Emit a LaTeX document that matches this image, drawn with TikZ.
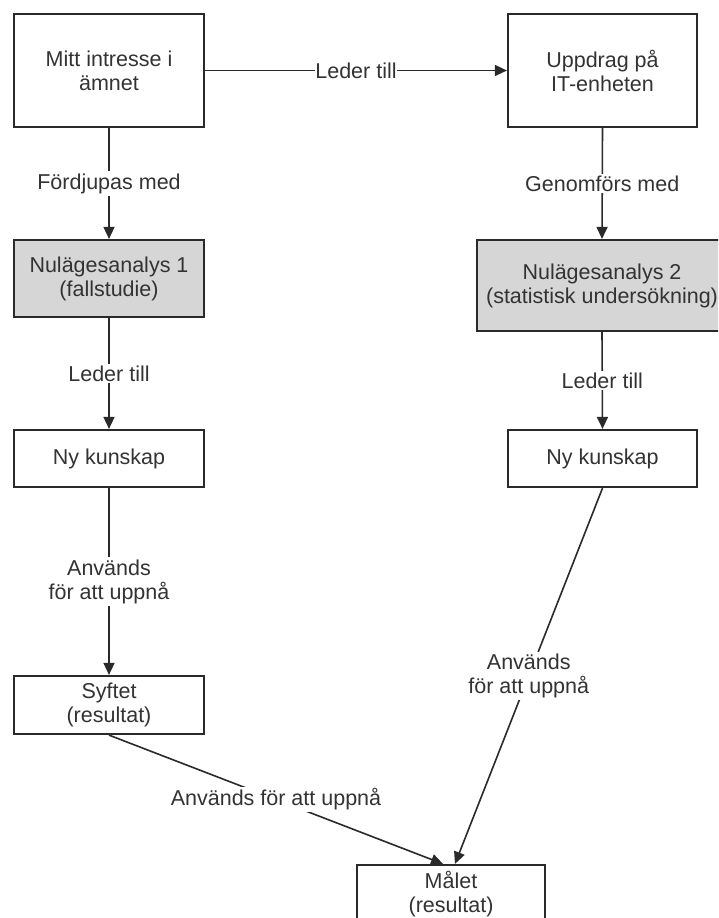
\documentclass[tikz,border=0pt]{standalone}
\usepackage{fontspec}
\setmainfont{Liberation Sans}
\usetikzlibrary{arrows.meta}
\definecolor{ink}{HTML}{2A2A2A}
\definecolor{txt}{HTML}{333333}
\definecolor{shade}{HTML}{D6D6D6}
\begin{document}
\begin{tikzpicture}[x=1pt,y=-1pt,
  box/.style={draw=ink,line width=2.2pt,fill=white,rectangle,align=center,
    text=txt,font=\fontsize{21.5}{24}\selectfont,inner sep=0pt},
  grey/.style={box,fill=shade},
  conn/.style={draw=ink,line width=1.6pt,-{Triangle[length=12pt,width=11pt]}},
  lab/.style={fill=white,text=txt,font=\fontsize{21.5}{24}\selectfont,align=center,inner sep=2pt},
  hlab/.style={lab,inner xsep=0pt,inner ysep=2pt}]
\useasboundingbox (0,0) rectangle (718,918);
\fill[white] (0,0) rectangle (718,918);
\begin{scope}
\clip (0,0) rectangle (718,918);
\node[box,minimum width=190pt,minimum height=113pt] (a) at (109,70.5) {Mitt intresse i\\ämnet};
\node[box,minimum width=189pt,minimum height=113pt] (b) at (602.5,70.5) {Uppdrag på\\IT-enheten};
\node[grey,minimum width=190pt,minimum height=77pt] (c) at (109,278.5) {Nulägesanalys 1\\(fallstudie)};
\node[grey,minimum width=250pt,minimum height=91pt] (d) at (602,285.5) {Nulägesanalys 2\\(statistisk undersökning)};
\node[box,minimum width=190pt,minimum height=57pt] (e) at (109,458.5) {Ny kunskap};
\node[box,minimum width=189pt,minimum height=57pt] (f) at (602.5,458.5) {Ny kunskap};
\node[box,minimum width=190pt,minimum height=58pt] (g) at (109,705) {Syftet\\(resultat)};
\node[box,minimum width=188pt,minimum height=58pt] (h) at (451,894) {Målet\\(resultat)};

\draw[conn] (a.east) -- node[hlab] {Leder till} (b.west);
\draw[conn] (a.south) -- node[lab] {Fördjupas med} (c.north);
\draw[conn] (b.south) -- node[lab] {Genomförs med} (d.north);
\draw[conn] (c.south) -- node[lab] {Leder till} (e.north);
\draw[conn] (d.south) -- node[lab] {Leder till} (f.north);
\draw[conn] (e.south) -- node[lab] {Används\\för att uppnå} (g.north);
\draw[conn] (g.south) -- node[lab] {Används för att uppnå} ([xshift=-8pt]h.north);
\draw[conn] (f.south) -- node[lab] {Används\\för att uppnå} ([xshift=4pt]h.north);
\end{scope}
\end{tikzpicture}
\end{document}
